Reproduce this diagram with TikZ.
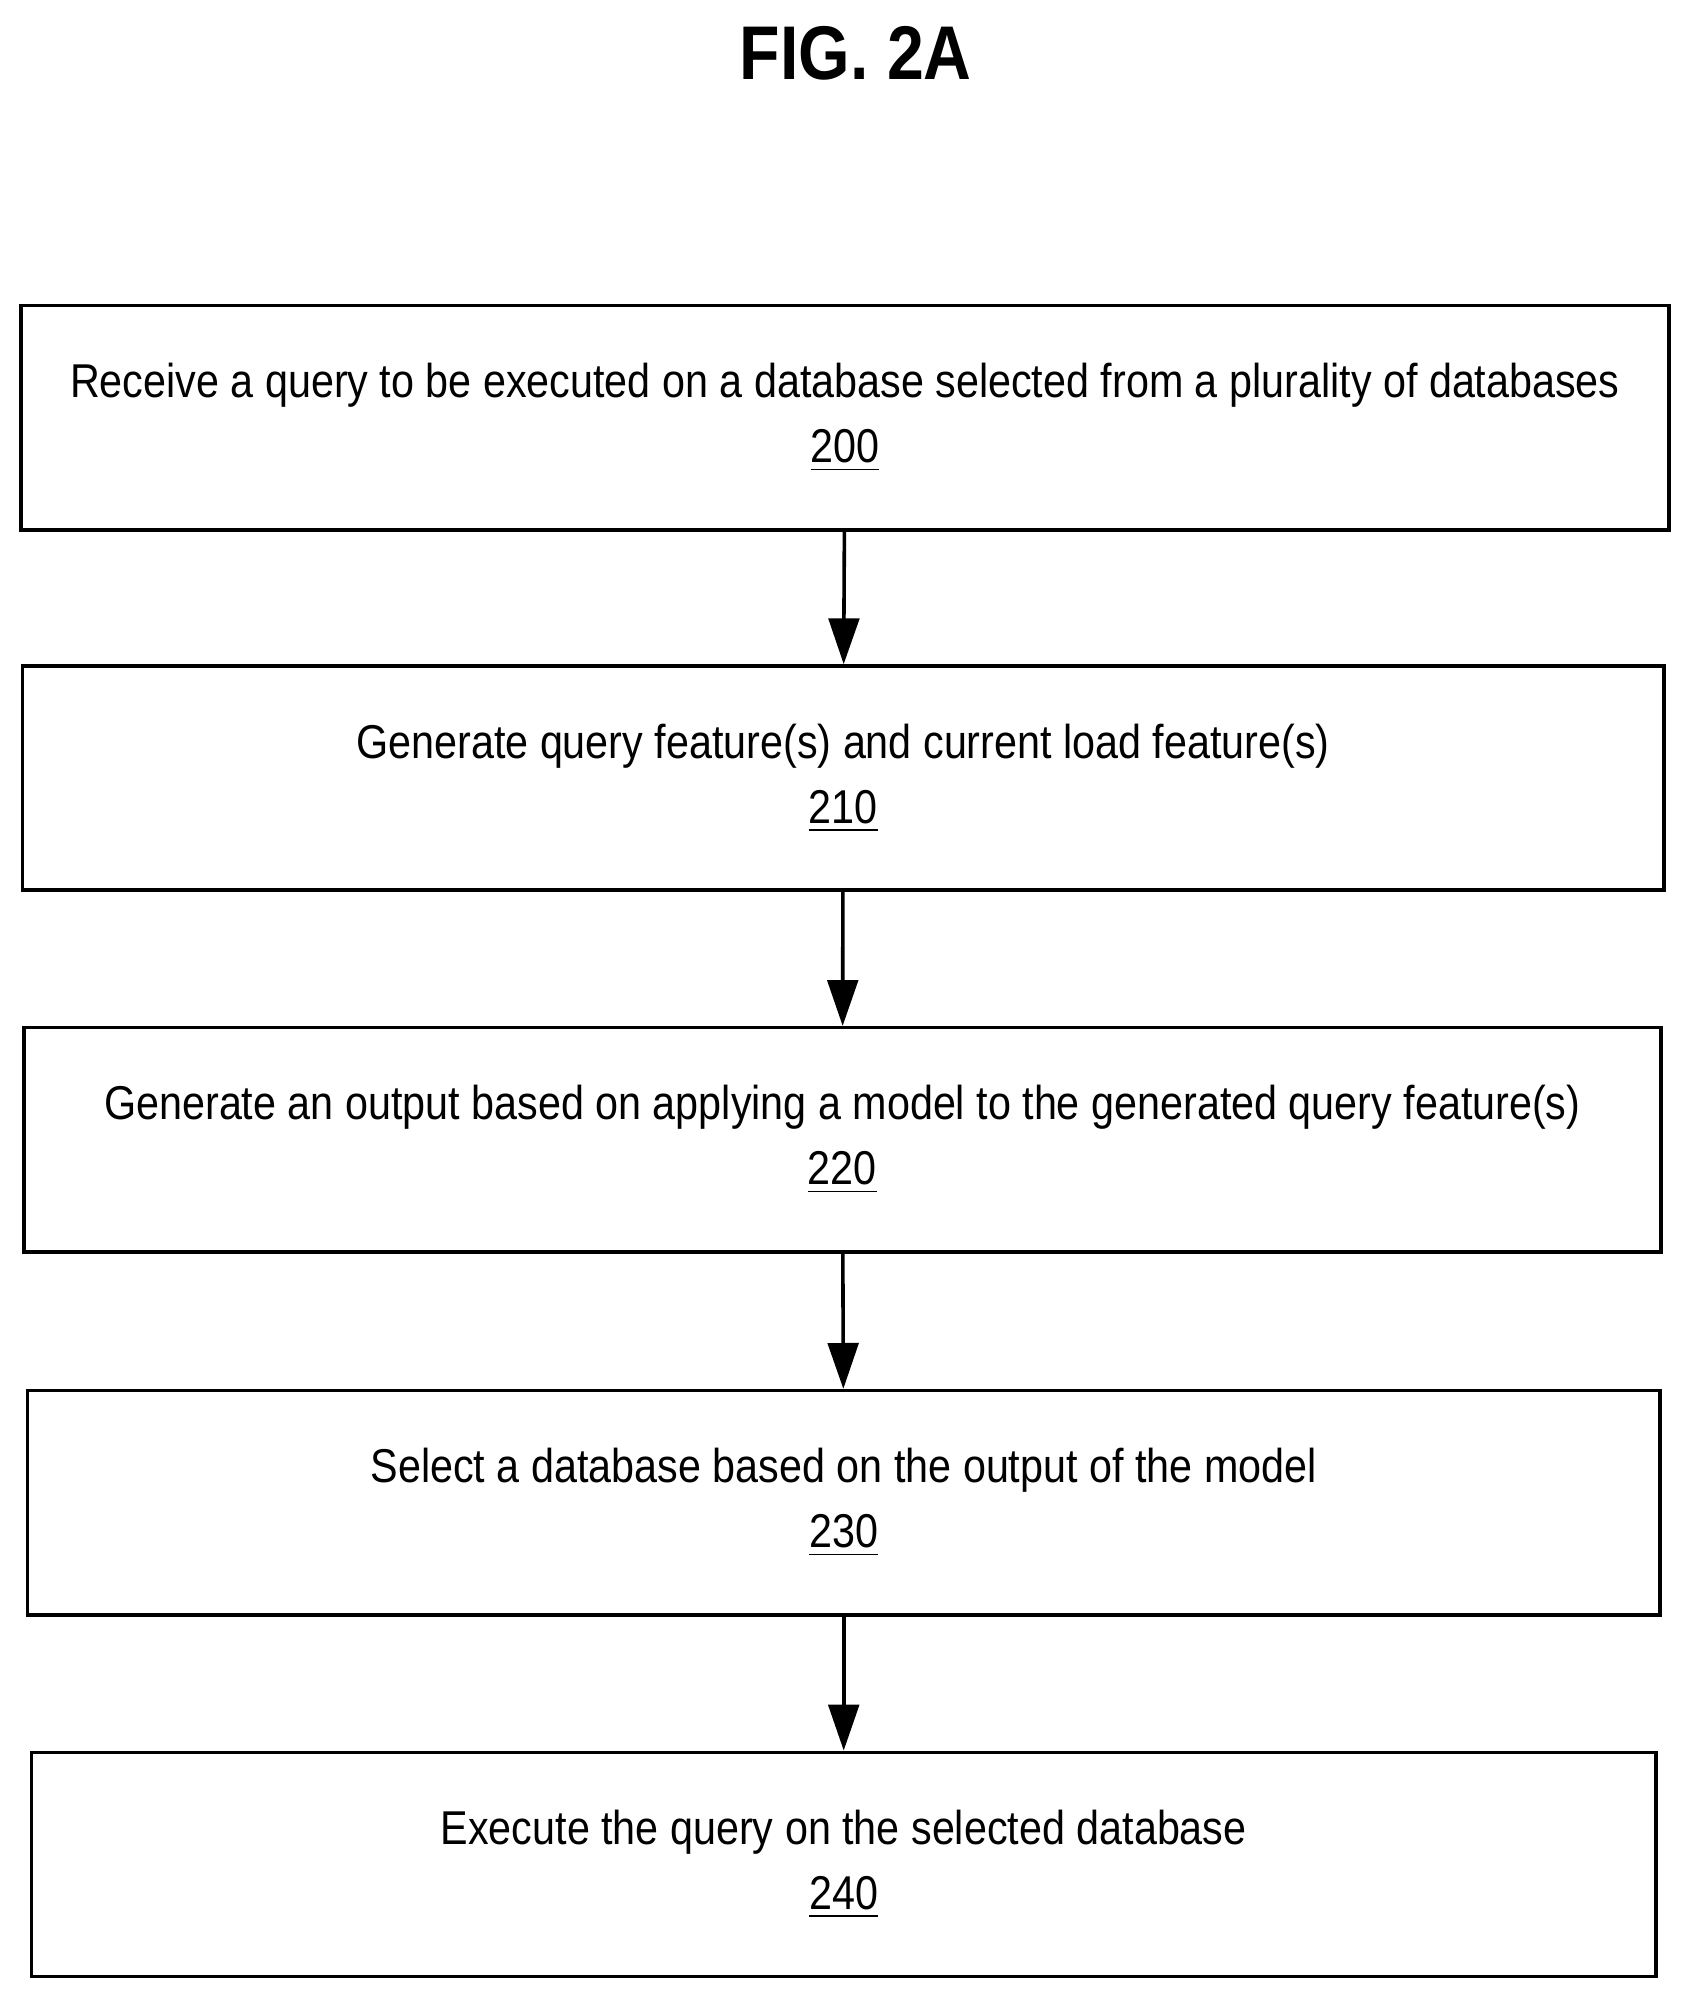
\documentclass[tikz,border=0pt]{standalone}
\usepackage{fontspec}
\setmainfont{Liberation Sans}[FakeStretch=0.87]
\usetikzlibrary{arrows.meta}
\begin{document}
\begin{tikzpicture}[x=0.01cm,y=-0.01cm,
  box/.style={draw,line width=0.8pt,minimum height=1.76cm,inner sep=0pt,align=center,font=\fontsize{10.6}{14.5}\selectfont},
  arr/.style={-{Triangle[length=0.36cm,width=0.24cm]},line width=0.8pt}]
\useasboundingbox (0,0) rectangle (1330,1572);
\node[font=\fontsize{17}{20}\selectfont\bfseries] (title) at (672,42) {FIG. 2A};
\node[box,minimum width=12.93cm] (b200) at (663.5,328) {Receive a query to be executed on a database selected from a plurality of databases\\\underline{200}};
\node[box,minimum width=12.88cm] (b210) at (662,611) {Generate query feature(s) and current load feature(s)\\\underline{210}};
\node[box,minimum width=12.85cm] (b220) at (661.5,895) {Generate an output based on applying a model to the generated query feature(s)\\\underline{220}};
\node[box,minimum width=12.81cm] (b230) at (662.5,1180) {Select a database based on the output of the model\\\underline{230}};
\node[box,minimum width=12.75cm] (b240) at (662.5,1464) {Execute the query on the selected database\\\underline{240}};
\draw[arr] (b200) -- (b210);
\draw[arr] (b210) -- (b220);
\draw[arr] (b220) -- (b230);
\draw[arr] (b230) -- (b240);
\end{tikzpicture}
\end{document}
